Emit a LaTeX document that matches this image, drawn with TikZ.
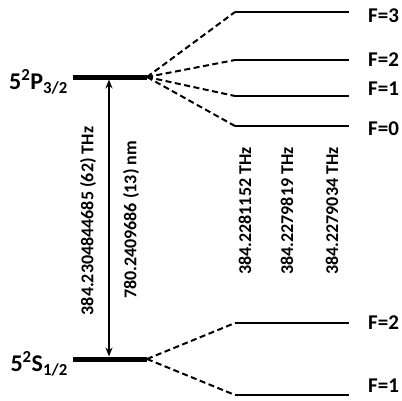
\documentclass[tikz,border=0pt]{standalone}
\usepackage{fontspec}
\setmainfont{Carlito}
\usetikzlibrary{arrows.meta}
\begin{document}
\begin{tikzpicture}[x=1pt,y=-1pt,
  level/.style={line width=5pt},
  hf/.style={line width=2pt},
  split/.style={line width=2pt,dash pattern=on 6pt off 3.5pt},
  flabel/.style={font=\bfseries\fontsize{21}{21}\selectfont,anchor=west,inner sep=0pt},
  slabel/.style={font=\bfseries\fontsize{24}{24}\selectfont,anchor=east,inner sep=0pt},
  vlabel/.style={font=\bfseries\fontsize{18}{18}\selectfont,rotate=90,inner sep=0pt}]
\useasboundingbox (0,0) rectangle (402,400);
% fine-structure levels
\coordinate (PL) at (73,77);
\coordinate (PR) at (147,77);
\coordinate (SL) at (73,359);
\coordinate (SR) at (147,359);
\draw[level] (PL) -- (PR);
\draw[level] (SL) -- (SR);
\node[slabel] (Plab) at (68,82) {5\textsuperscript{2}P\textsubscript{3/2}};
\node[slabel] (Slab) at (68,364) {5\textsuperscript{2}S\textsubscript{1/2}};
% transition arrow
\coordinate (At) at (109,79.5);
\coordinate (Ab) at (109,356.5);
\draw[line width=1.4pt,{Stealth[length=9pt,width=7pt]}-{Stealth[length=9pt,width=7pt]}] (At) -- (Ab);
\node[vlabel] (nu) at (88,221) {384.2304844685 (62) THz};
\node[vlabel] (lam) at (131,220) {780.2409686 (13) nm};
% hyperfine levels upper
\foreach \n/\y/\ly in {3/12/16, 2/60/60, 1/96/89, 0/126/129}{
  \coordinate (u\n a) at (235,\y);
  \coordinate (u\n b) at (349,\y);
  \draw[split] (PR) -- (u\n a);
  \draw[hf] (u\n a) -- (u\n b);
  \node[flabel] (uF\n) at (368,\ly) {F=\n};
}
% hyperfine levels lower
\foreach \n/\y/\ly in {2/323/323, 1/395/386}{
  \coordinate (l\n a) at (235,\y);
  \coordinate (l\n b) at (349,\y);
  \draw[split] (SR) -- (l\n a);
  \draw[hf] (l\n a) -- (l\n b);
  \node[flabel] (lF\n) at (368,\ly) {F=\n};
}
% frequencies
\node[vlabel] (f1) at (245,211) {384.2281152 THz};
\node[vlabel] (f2) at (287,211) {384.2279819 THz};
\node[vlabel] (f3) at (332,211) {384.2279034 THz};
\end{tikzpicture}
\end{document}
